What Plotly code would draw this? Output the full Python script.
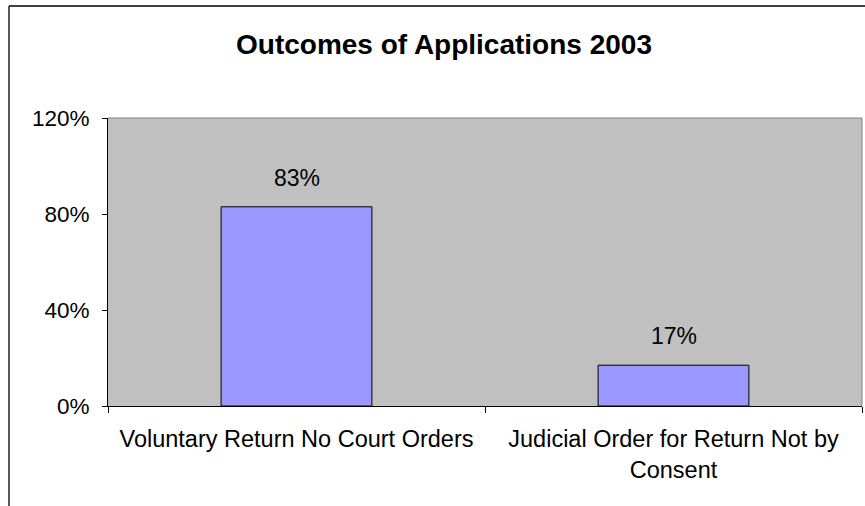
import plotly.graph_objects as go

categories = ["Voluntary Return No Court Orders", "Judicial Order for Return Not by<br>Consent"]
values = [0.83, 0.17]
value_labels = ["83%", "17%"]
y_ticks = [0, 0.4, 0.8, 1.2]
y_tick_labels = ["0%", "40%", "80%", "120%"]

FONT = "Liberation Sans, Arial, sans-serif"

fig = go.Figure()
fig.add_trace(go.Bar(
    x=categories, y=values, width=0.4,
    marker=dict(color="#9999FF", line=dict(color="black", width=1)),
    hoverinfo="skip",
))

W, H = 865, 506
L, R, T, B = 108, 3, 118, 100
pw, ph = W - L - R, H - T - B


def px_x(p):
    return (p - L) / pw


def px_y(p):
    return (H - B - p) / ph


annotations = [
    dict(x=c, y=v, xref="x", yref="y", text=t, showarrow=False, yanchor="bottom",
         yshift=14, font=dict(family=FONT, size=23, color="black"))
    for c, v, t in zip(categories, values, value_labels)
]

fig.update_layout(
    width=W, height=H,
    margin=dict(l=L, r=R, t=T, b=B, pad=0),
    paper_bgcolor="white", plot_bgcolor="#C0C0C0",
    showlegend=False,
    font=dict(family=FONT, size=23, color="black"),
    title=dict(text="<b>Outcomes of Applications 2003</b>", x=444 / W, xanchor="center",
               y=1 - 44 / H, yanchor="middle", font=dict(family=FONT, size=28, color="black")),
    xaxis=dict(showgrid=False, showline=True, linecolor="black", linewidth=1,
               ticks="outside", ticklen=6, tickcolor="black", tickson="boundaries",
               tickfont=dict(family=FONT, size=23.5), ticklabelstandoff=12, fixedrange=True),
    yaxis=dict(range=[0, 1.2], tickvals=y_ticks, ticktext=y_tick_labels, showgrid=False,
               showline=True, linecolor="black", linewidth=1, ticks="outside", ticklen=5,
               tickcolor="black", tickfont=dict(family=FONT, size=22.5), zeroline=False,
               ticklabelstandoff=8, fixedrange=True),
    annotations=annotations,
    shapes=[
        dict(type="line", xref="paper", yref="paper", x0=0, x1=1, y0=1, y1=1,
             line=dict(color="#808080", width=1)),
        dict(type="line", xref="paper", yref="paper", x0=1, x1=1, y0=0, y1=1,
             line=dict(color="#808080", width=1)),
        dict(type="line", xref="paper", yref="paper", x0=px_x(9), x1=px_x(9), y0=px_y(6), y1=px_y(510),
             line=dict(color="black", width=1.3)),
        dict(type="line", xref="paper", yref="paper", x0=px_x(9), x1=px_x(870), y0=px_y(6), y1=px_y(6),
             line=dict(color="black", width=1.3)),
    ],
)

fig.write_html("out.html", config={"displayModeBar": False, "staticPlot": True},
               post_script="document.body.style.margin='0px';")
